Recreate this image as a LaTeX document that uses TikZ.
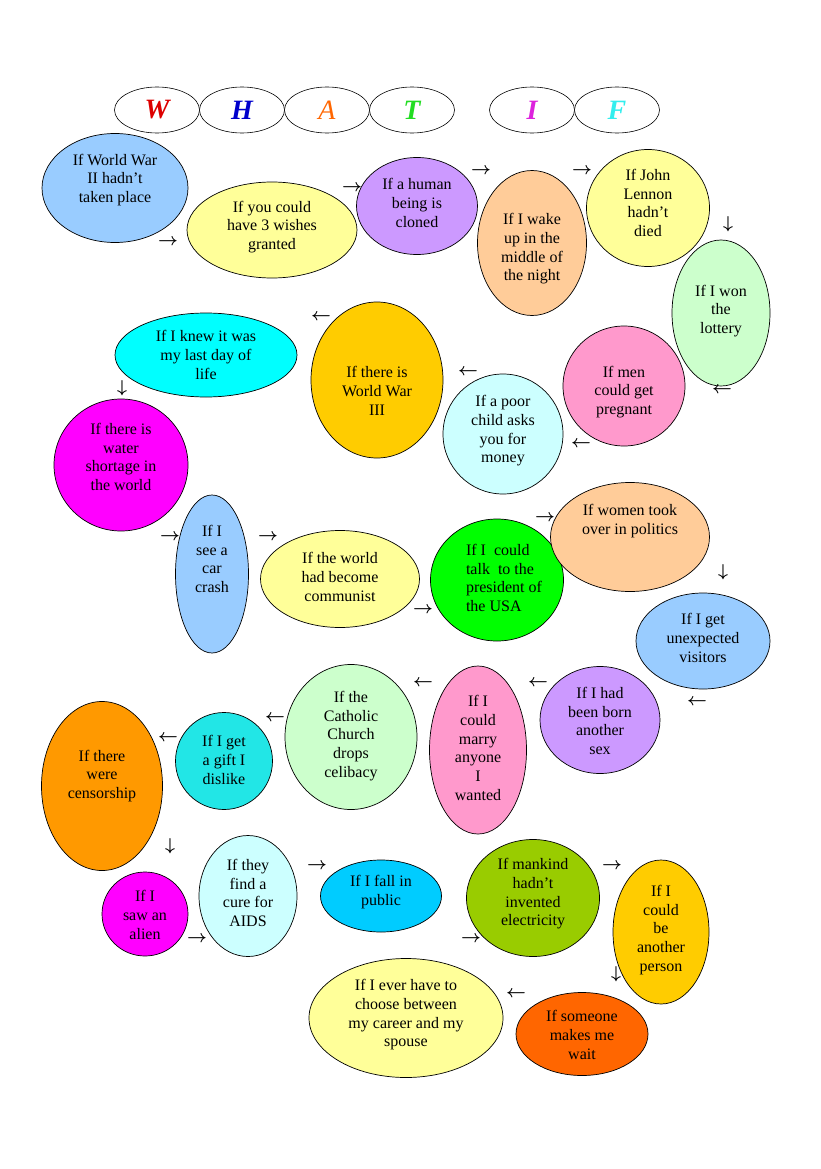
\documentclass[tikz,border=0pt]{standalone}
\usepackage{fontspec}
\setmainfont{Liberation Serif}
\usetikzlibrary{shapes.geometric}
\definecolor{clblue}{HTML}{99CCFF}
\definecolor{clyellow}{HTML}{FFFF99}
\definecolor{clpurple}{HTML}{CC99FF}
\definecolor{cpeach}{HTML}{FFCC99}
\definecolor{clgreen}{HTML}{CCFFCC}
\definecolor{cpink}{HTML}{FF99CC}
\definecolor{clcyan}{HTML}{CCFFFF}
\definecolor{cgold}{HTML}{FFCC00}
\definecolor{ccyan}{HTML}{00FFFF}
\definecolor{ctcyan}{HTML}{22E6E6}
\definecolor{cmag}{HTML}{FF00FF}
\definecolor{cgreen}{HTML}{00FF00}
\definecolor{corange}{HTML}{FF9900}
\definecolor{csky}{HTML}{00CCFF}
\definecolor{cygreen}{HTML}{99CC00}
\definecolor{cored}{HTML}{FF6600}
\definecolor{tW}{HTML}{DD0000}
\definecolor{tH}{HTML}{0000CC}
\definecolor{tA}{HTML}{FF6600}
\definecolor{tT}{HTML}{22DD22}
\definecolor{tI}{HTML}{DD22DD}
\definecolor{tF}{HTML}{33EEEE}
\tikzset{
  bub/.style={ellipse, draw=black, line width=0.7pt, inner sep=0pt},
  txt/.style={align=center, font=\fontsize{16}{18.7}\selectfont, inner sep=0pt},
  arr/.style={font=\fontsize{17}{17}\selectfont\boldmath, inner sep=0pt},
  ttl/.style={ellipse, draw=black, line width=0.6pt, minimum width=85pt, minimum height=46pt, inner sep=0pt, fill=white, font=\fontsize{28}{28}\selectfont\bfseries\itshape}
}
\newcommand\bub[9]{%
  \node[bub, fill=#6, minimum width=#4pt, minimum height=#5pt] (b#1) at (#2,#3) {};
  \node[txt] (t#1) at (#7,#8) {#9};}
\begin{document}
\begin{tikzpicture}[x=1pt,y=-1pt]
\useasboundingbox (0,0) rectangle (821,1169);
\fill[white] (0,0) rectangle (821,1169);
% title
\node[ttl, text=tW] (tw) at (157,110) {W};
\node[ttl, text=tH] (th) at (242,110) {H};
\node[ttl, text=tA, font=\fontsize{28}{28}\selectfont\itshape] (ta) at (327,110) {A};
\node[ttl, text=tT] (tt) at (412,110) {T};
\node[ttl, text=tI] (ti) at (532,110) {I};
\node[ttl, text=tF] (tf) at (617,110) {F};
% bubbles
\bub{1}{115}{188}{146}{109}{clblue}{115}{180}{If World War\\II hadn’t\\taken place}
\bub{2}{272}{230}{170}{96}{clyellow}{272}{227}{If you could\\have 3 wishes\\granted}
\bub{3}{417}{206}{121}{97}{clpurple}{417}{203}{If a human\\being is\\cloned}
\bub{4}{532}{243}{109}{145}{cpeach}{532}{249}{If I wake\\up in the\\middle of\\the night}
\bub{5}{648}{208}{123}{117}{clyellow}{648}{203}{If John\\Lennon\\hadn’t\\died}
\bub{6}{721}{313}{98}{146}{clgreen}{721}{311}{If I won\\the\\lottery}
\bub{7}{624}{386}{122}{120}{cpink}{624}{392}{If men\\could get\\pregnant}
\bub{8}{503}{434}{120}{120}{clcyan}{503}{431}{If a poor\\child asks\\you for\\money}
\bub{9}{377}{380}{132}{156}{cgold}{377}{391}{If there is\\World War\\III}
\bub{10}{206}{355}{182}{84}{ccyan}{206}{355}{If I knew it was\\my last day of\\life}
\bub{11}{121}{465}{134}{132}{cmag}{121}{457}{If there is\\water\\shortage in\\the world}
\bub{12}{212}{574}{73}{158}{clblue}{212}{559}{If I\\see a\\car\\crash}
\bub{13}{340}{579}{159}{97}{clyellow}{340}{577}{If the world\\had become\\communist}
\bub{14}{497}{580}{133}{122}{cgreen}{0}{0}{}
\node[txt, align=left] (t14b) at (504,578) {If I \ could\\talk \ to the\\president of\\the USA};
\bub{15}{630}{537}{159}{109}{cpeach}{630}{521}{If women took\\over in politics}
\bub{16}{703}{641}{134}{96}{clblue}{703}{638}{If I get\\unexpected\\visitors}
\bub{17}{600}{720}{120}{107}{clpurple}{600}{721}{If I had\\been born\\another\\sex}
\bub{18}{478}{750}{97}{168}{cpink}{478}{748}{If I\\could\\marry\\anyone\\I\\wanted}
\bub{19}{351}{737}{132}{145}{clgreen}{351}{736}{If the\\Catholic\\Church\\drops\\celibacy}
\bub{20}{224}{761}{97}{97}{ctcyan}{224}{760}{If I get\\a gift I\\dislike}
\bub{21}{102}{786}{121}{169}{corange}{102}{776}{If there\\were\\censorship}
\bub{22}{145}{914}{86}{84}{cmag}{145}{915}{If I\\saw an\\alien}
\bub{23}{248}{896}{98}{121}{clcyan}{248}{893}{If they\\find a\\cure for\\AIDS}
\bub{24}{381}{896}{121}{72}{csky}{381}{892}{If I fall in\\public}
\bub{25}{533}{898}{133}{117}{cygreen}{533}{894}{If mankind\\hadn’t\\invented\\electricity}
\bub{26}{661}{932}{96}{144}{cgold}{661}{930}{If I\\could\\be\\another\\person}
\bub{27}{582}{1034}{132}{83}{cored}{582}{1035}{If someone\\makes me\\wait}
\bub{28}{406}{1018}{194}{119}{clyellow}{406}{1015}{If I ever have to\\choose between\\my career and my\\spouse}
% arrows
\node[arr] (a1) at (168,242) {$\rightarrow$};
\node[arr] (a2) at (352,188) {$\rightarrow$};
\node[arr] (a3) at (481,171) {$\rightarrow$};
\node[arr] (a4) at (582,171) {$\rightarrow$};
\node[arr] (a5) at (728,224) {$\downarrow$};
\node[arr] (a6) at (722,390) {$\leftarrow$};
\node[arr] (a7) at (581,444) {$\leftarrow$};
\node[arr] (a8) at (468,372) {$\leftarrow$};
\node[arr] (a9) at (321,317) {$\leftarrow$};
\node[arr] (a10) at (122,388) {$\downarrow$};
\node[arr] (a11) at (170,537) {$\rightarrow$};
\node[arr] (a12) at (268,537) {$\rightarrow$};
\node[arr] (a13) at (423,610) {$\rightarrow$};
\node[arr] (a14) at (545,518) {$\rightarrow$};
\node[arr] (a15) at (723,572) {$\downarrow$};
\node[arr] (a16) at (697,702) {$\leftarrow$};
\node[arr] (a17) at (538,683) {$\leftarrow$};
\node[arr] (a18) at (423,683) {$\leftarrow$};
\node[arr] (a19) at (275,718) {$\leftarrow$};
\node[arr] (a20) at (168,738) {$\leftarrow$};
\node[arr] (a21) at (170,846) {$\downarrow$};
\node[arr] (a22) at (197,939) {$\rightarrow$};
\node[arr] (a23) at (317,866) {$\rightarrow$};
\node[arr] (a24) at (471,939) {$\rightarrow$};
\node[arr] (a25) at (612,866) {$\rightarrow$};
\node[arr] (a26) at (616,974) {$\downarrow$};
\node[arr] (a27) at (516,994) {$\leftarrow$};
\end{tikzpicture}
\end{document}
